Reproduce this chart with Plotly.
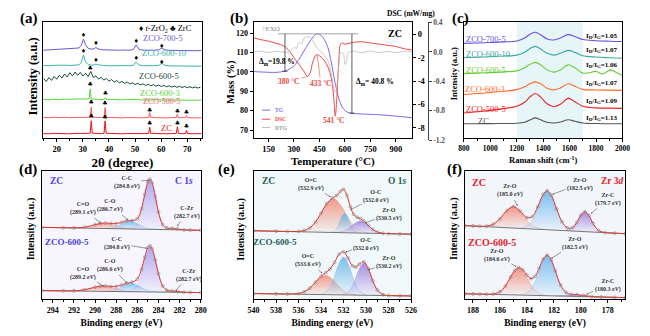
import plotly.graph_objects as go

W, H = 650, 336
SERIF = "Liberation Serif"

# ================= (a) XRD =================
xrd_zrc_grid = [14.8, 17, 19, 21, 23, 25, 27, 29, 31, 32.8, 33.2, 33.6, 35, 37, 38.1, 38.5, 38.9, 41, 43, 45, 47, 49, 51, 53,
                55.2, 55.6, 56.0, 58, 60, 62, 64, 65.8, 66.2, 66.6, 68, 69.35, 69.7, 70.05, 72, 75.5]
xrd_zc = [4.4, 4.1, 4.6, 4.2, 4.5, 4.1, 4.6, 4.3, 4.5, 4.8, 17.5, 4.8, 4.4, 4.3, 4.7, 17.3, 4.7, 4.3, 4.5, 4.1, 4.4, 4.2, 4.5, 4.3,
          4.6, 10.8, 4.6, 4.3, 4.4, 4.1, 4.4, 4.6, 11.5, 4.6, 4.3, 4.5, 7.6, 4.4, 4.2, 4.3]
xrd_zco_500_5 = [21.0, 20.6, 21.2, 20.7, 21.1, 20.6, 21.0, 20.7, 21.0, 21.3, 31.5, 21.3, 20.9, 20.7, 21.1, 31.0, 21.0, 20.6, 20.9, 20.5,
                 20.8, 20.5, 20.8, 20.6, 20.9, 25.8, 20.9, 20.6, 20.7, 20.4, 20.7, 20.9, 24.2, 20.8, 20.6, 20.8, 22.8, 20.7, 20.5, 20.6]
xrd_600_3_x = [14.8, 17, 19, 21, 23, 25, 27, 29, 31, 32.4, 32.8, 33.2, 35, 37, 38.2, 38.6, 39.0, 41, 43, 45, 47, 49, 51, 53, 55,
               57, 59, 61, 63, 65, 67, 69, 71, 73, 75.5]
xrd_zco_600_3 = [39.5, 39.0, 39.6, 39.2, 39.8, 39.4, 39.9, 39.5, 39.8, 40.2, 50.2, 40.0, 39.5, 39.3, 39.6, 41.2, 39.5, 39.2, 39.4, 39.0,
                 39.3, 38.9, 39.2, 38.9, 39.1, 38.8, 39.1, 38.8, 39.0, 38.7, 38.9, 38.6, 38.9, 38.6, 38.8]
xrd_600_5_x = [15, 16, 17, 18, 19, 20, 21, 22, 23, 24, 25, 26, 27, 28, 29, 30, 31, 32, 33, 34, 35, 36, 37, 38, 39, 40, 41, 42, 43, 44,
               45, 46, 47, 48, 49, 50, 51, 52, 53, 54, 55, 56, 57, 58, 59, 60, 61, 62, 63, 64, 65, 66, 67, 68, 69, 70, 71, 72, 73, 74, 75]
xrd_zco_600_5 = [60.8, 57.9, 61.9, 59.0, 63.1, 60.2, 64.3, 61.4, 65.6, 62.5, 66.9, 63.6, 67.6, 64.1, 67.2, 63.5, 66.4, 62.9, 68.2, 62.0,
                 63.6, 60.4, 62.2, 59.3, 61.0, 58.2, 59.9, 57.3, 58.8, 56.5, 58.0, 55.9, 57.3, 55.3, 56.6, 54.8, 56.0, 54.3, 55.5, 53.8,
                 55.0, 53.4, 54.6, 53.0, 54.2, 52.7, 53.8, 52.4, 53.5, 52.1, 53.2, 51.9, 52.9, 51.7, 52.7, 51.5, 52.5, 51.3, 52.3, 51.1, 52.0]
xrd_zro2_grid = [14.8, 17, 19, 21, 23, 25, 27, 28.5, 29.4, 29.9, 30.2, 30.5, 31.0, 32.0, 33.5, 34.6, 35.0, 35.4, 36.5, 38, 40, 42, 44,
                 46, 48, 49.4, 50.0, 50.4, 50.8, 51.5, 53, 55, 57, 59.0, 59.7, 60.2, 60.7, 61.5, 63, 65, 67, 69, 71, 73, 75.5]
xrd_zco_600_10 = [74.3, 74.0, 74.5, 74.2, 74.6, 74.4, 74.7, 74.9, 77.5, 82.5, 85.0, 83.0, 78.0, 75.2, 74.6, 75.3, 75.8, 75.2, 74.5,
                  74.3, 74.0, 74.3, 74.0, 74.2, 74.0, 74.6, 76.8, 78.0, 76.9, 74.8, 74.1, 73.9, 74.1, 74.4, 75.9, 76.5, 75.8, 74.5,
                  74.0, 73.8, 74.0, 73.7, 73.9, 73.6, 73.8]
xrd_zco_700_5 = [90.0, 90.4, 90.9, 91.2, 91.6, 91.8, 92.0, 92.3, 95.0, 99.5, 101.5, 99.8, 95.5, 92.0, 91.0, 92.0, 93.0, 92.0, 90.8,
                 90.4, 90.1, 90.3, 90.0, 90.2, 90.0, 90.8, 93.8, 95.5, 93.9, 90.9, 90.1, 89.8, 90.0, 90.3, 91.5, 92.3, 91.5, 90.4,
                 89.9, 89.7, 89.9, 89.6, 89.8, 89.5, 89.7]
zro2_mark_x = [30.2, 35.0, 50.4, 60.2, 30.2, 35.0, 50.4, 60.2]
zro2_mark_y = [105.5, 96.5, 99.0, 93.8, 89.0, 79.0, 81.8, 77.6]
zrc_mark_x = [32.8, 32.8, 38.6, 33.2, 38.5, 55.6, 66.2, 69.7, 33.2, 38.5, 55.6, 66.2, 69.7]
zrc_mark_y = [71.5, 54.5, 45.3, 35.8, 35.3, 28.2, 27.0, 25.6, 21.5, 21.3, 14.5, 15.0, 11.3]

# ================= (b) TG / DSC / DTG =================
tg_T = [62, 100, 150, 200, 240, 280, 310, 340, 370, 400, 425, 440, 460, 480, 500, 515, 530, 545, 560, 575, 595, 615, 640, 700, 800, 900, 995]
tg_mass = [100.2, 100.0, 99.8, 99.8, 100.3, 101.8, 104.0, 108.0, 112.5, 116.5, 119.2, 119.6, 118.8, 116.5, 112.5, 107.0, 100.0, 93.0,
           87.5, 83.5, 80.5, 79.2, 78.7, 78.3, 77.9, 77.2, 76.4]
dsc_T = [62, 100, 150, 200, 240, 270, 300, 330, 360, 380, 395, 410, 425, 435, 450, 470, 490, 510, 525, 535, 543, 550, 558, 565, 572,
         580, 600, 650, 700, 750, 800, 850, 900, 950, 995]
dsc_val = [-0.3, -0.45, -0.6, -0.8, -1.0, -1.4, -2.0, -2.6, -3.2, -3.6, -3.3, -2.4, -1.85, -1.75, -1.85, -2.1, -2.5, -3.2, -4.2, -5.6,
           -7.0, -6.0, -3.8, -2.0, -0.9, -0.75, -0.85, -0.7, -0.65, -0.75, -0.85, -0.95, -1.05, -1.25, -1.35]
dtg_T = [62, 100, 150, 200, 250, 280, 300, 315, 330, 345, 360, 375, 390, 400, 415, 430, 445, 460, 480, 500, 520, 535, 545, 555, 565,
         575, 590, 600, 610, 620, 650, 700, 750, 800, 850, 900, 950, 995]
dtg_val = [0.0, 0.012, -0.008, 0.01, -0.005, 0.01, 0.06, 0.05, 0.13, 0.11, 0.19, 0.2, 0.21, 0.19, 0.14, 0.07, 0.03, 0.0, -0.05, -0.12,
           -0.3, -0.5, -0.55, -0.4, -0.15, -0.01, -0.02, -0.17, -0.12, -0.01, 0.01, -0.01, 0.012, -0.01, 0.008, -0.01, 0.01, 0.0]

# ================= (c) Raman =================
raman_x = [800, 900, 1000, 1100, 1200, 1260, 1300, 1340, 1380, 1430, 1480, 1530, 1590, 1640, 1700, 1800, 1900, 2000]
raman_x_600_5 = [800, 900, 1000, 1100, 1200, 1260, 1300, 1340, 1380, 1430, 1480, 1530, 1590, 1640, 1700, 1750, 1800, 1850, 1910, 1960, 2000]
raman_zc = [14.5, 14.5, 14.6, 14.7, 14.9, 16.0, 18.3, 20.5, 18.5, 16.0, 15.3, 16.2, 18.5, 17.0, 15.2, 14.7, 14.5, 14.4]
raman_500_5 = [25.5, 26.8, 28.2, 30.0, 32.5, 36.5, 42.0, 45.5, 42.0, 35.0, 32.0, 34.5, 40.5, 37.0, 32.5, 30.8, 30.5, 30.3]
raman_600_3 = [44.5, 45.5, 46.5, 47.8, 49.5, 52.5, 55.5, 57.5, 55.5, 51.0, 49.3, 51.3, 55.5, 53.0, 49.8, 49.2, 49.0, 48.8]
raman_600_5 = [66.0, 66.5, 67.0, 67.8, 68.8, 72.0, 75.5, 77.5, 75.0, 69.8, 67.5, 69.8, 75.0, 72.0, 66.5, 66.8, 68.3, 65.5, 69.8, 66.5, 64.0]
raman_600_10 = [82.3, 82.8, 83.3, 84.0, 85.0, 88.0, 91.8, 94.0, 91.3, 86.8, 85.0, 86.8, 89.8, 87.8, 84.3, 83.0, 82.3, 81.8]
raman_700_5 = [97.0, 97.5, 98.0, 98.6, 99.5, 102.5, 106.5, 108.5, 106.0, 101.5, 100.5, 102.5, 106.0, 104.0, 101.0, 99.8, 99.3, 99.0]
id_ig_ratio = ["1.05", "1.07", "1.06", "1.07", "1.09", "1.13"]

# ================= (d) C 1s =================
c1s_bg_x = [295, 280]
c1s_zc_bg = [74.0, 71.0]
c1s_zco_bg = [9.0, 7.0]
c1s_env_x = [295, 293, 292, 291, 290, 289.5, 289, 288.5, 288, 287.5, 287, 286.5, 286, 285.6, 285.3, 285.0, 284.8, 284.6, 284.3,
             284.0, 283.6, 283.2, 282.7, 282.2, 281.6, 281, 280]
c1s_zc_env = [74.0, 73.6, 73.5, 74.2, 76.7, 78.0, 78.4, 78.0, 77.9, 79.1, 80.7, 80.9, 82.7, 93.2, 107.7, 120.6, 123.5, 119.9, 105.8,
              89.7, 76.8, 73.3, 73.0, 72.3, 71.4, 71.2, 71.0]
c1s_zco_env = [9.0, 8.74, 8.82, 9.92, 12.56, 13.59, 13.77, 13.35, 13.37, 14.7, 16.62, 17.66, 20.82, 30.96, 43.07, 53.11, 55.06, 52.09,
               40.42, 26.42, 13.8, 9.41, 8.64, 8.03, 7.33, 7.13, 7.0]
c1s_zc_CdO_x = [292.1, 291.2, 290.5, 289.8, 289.1, 288.4, 287.7, 287.0, 286.1]
c1s_zc_CdO = [73.49, 73.9, 75.25, 77.3, 78.32, 77.0, 74.69, 73.06, 72.29]
c1s_zc_CO_x = [289.1, 288.35, 287.8, 287.25, 286.7, 286.15, 285.6, 285.05, 284.3]
c1s_zc_CO = [72.92, 73.65, 75.76, 78.93, 80.54, 78.71, 75.32, 72.99, 71.96]
c1s_zc_CC_x = [286.45, 285.94, 285.56, 285.18, 284.8, 284.42, 284.04, 283.66, 283.15]
c1s_zc_CC = [72.9, 78.31, 92.0, 112.33, 122.96, 112.17, 91.7, 77.85, 72.24]
c1s_zc_CZr_x = [284.2, 283.75, 283.4, 283.05, 282.7, 282.35, 282.0, 281.65, 281.2]
c1s_zc_CZr = [71.86, 71.93, 72.27, 72.8, 73.04, 72.66, 71.99, 71.51, 71.26]
c1s_zco_CdO_x = [292.45, 291.45, 290.7, 289.95, 289.2, 288.45, 287.7, 286.95, 285.95]
c1s_zco_CdO = [8.72, 9.21, 10.6, 12.67, 13.72, 12.47, 10.2, 8.61, 7.86]
c1s_zco_CO_x = [289.1, 288.34, 287.76, 287.18, 286.6, 286.02, 285.44, 284.86, 284.1]
c1s_zco_CO = [8.32, 9.17, 11.46, 14.9, 16.67, 14.75, 11.15, 8.7, 7.65]
c1s_zco_CC_x = [286.58, 286.03, 285.62, 285.21, 284.8, 284.39, 283.98, 283.57, 283.02]
c1s_zco_CC = [8.47, 13.38, 25.87, 44.43, 54.13, 44.32, 25.65, 13.05, 8.0]
c1s_zco_CZr_x = [284.2, 283.75, 283.4, 283.05, 282.7, 282.35, 282.0, 281.65, 281.2]
c1s_zco_CZr = [7.57, 7.63, 7.92, 8.35, 8.55, 8.26, 7.73, 7.35, 7.17]

# ================= (e) O 1s =================
o1s_bg_x = [540, 526]
o1s_zc_bg = [70.5, 67.0]
o1s_zco_bg = [6.0, 3.5]
o1s_zc_env_x = [540, 538, 537, 536, 535.5, 535, 534.5, 534, 533.5, 533, 532.6, 532.3, 532.0, 531.7, 531.4, 531.1, 530.8, 530.5,
                530.2, 529.8, 529.4, 529, 528.5, 528, 527, 526]
o1s_zc_env = [70.5, 70.0, 69.76, 69.85, 70.74, 73.44, 79.34, 88.54, 98.32, 104.1, 106.79, 110.8, 113.05, 106.77, 95.23, 87.29, 84.35,
              82.87, 80.57, 76.11, 71.86, 69.2, 67.9, 67.53, 67.25, 67.0]
o1s_zco_env_x = [540, 538, 537, 536, 535.5, 535, 534.5, 534, 533.6, 533.2, 532.8, 532.4, 532.0, 531.6, 531.2, 530.9, 530.6, 530.2,
                 529.8, 529.4, 529, 528.5, 528, 527, 526]
o1s_zco_env = [6.0, 5.64, 5.49, 6.03, 7.72, 11.62, 17.63, 23.69, 27.3, 31.24, 38.08, 46.3, 48.79, 42.27, 34.29, 33.23, 36.19, 38.45,
               31.48, 19.1, 9.65, 4.89, 3.95, 3.68, 3.5]
o1s_zc_OdC_x = [535.9, 535.0, 534.3, 533.6, 532.9, 532.2, 531.5, 530.8, 529.9]
o1s_zc_OdC = [69.93, 73.45, 82.73, 96.55, 103.73, 96.2, 82.03, 72.4, 68.43]
o1s_zc_OC_x = [533.1, 532.73, 532.45, 532.18, 531.9, 531.62, 531.35, 531.07, 530.7]
o1s_zc_OC = [69.04, 71.08, 76.41, 84.35, 88.48, 84.21, 76.14, 70.67, 68.44]
o1s_zc_ZrO_x = [532.6, 532.0, 531.5, 531.0, 530.5, 530.0, 529.5, 529.0, 528.4]
o1s_zc_ZrO = [68.81, 70.0, 73.25, 78.13, 80.63, 77.88, 72.75, 69.25, 67.76]
o1s_zco_OdC_x = [536.35, 535.52, 534.88, 534.24, 533.6, 532.96, 532.32, 531.68, 530.85]
o1s_zco_OdC = [5.61, 7.6, 12.89, 20.77, 24.86, 20.54, 12.43, 6.92, 4.63]
o1s_zco_OC_x = [534.0, 533.4, 532.93, 532.46, 532.0, 531.54, 531.07, 530.6, 530.0]
o1s_zco_OC = [5.44, 9.5, 19.95, 35.46, 43.57, 35.3, 19.62, 8.99, 4.73]
o1s_zco_ZrO_x = [532.08, 531.51, 531.07, 530.64, 530.2, 529.76, 529.33, 528.89, 528.32]
o1s_zco_ZrO = [5.02, 8.44, 17.28, 30.4, 37.25, 30.24, 16.97, 7.98, 4.35]

# ================= (f) Zr 3d =================
zr_bg_x = [188.6, 176.7]
zr_zc_bg = [75.8, 67.47]
zr_zco_bg = [5.8, 1.8]
zr_zc_env_x = [188.6, 188, 187.5, 187, 186.5, 186, 185.5, 185.0, 184.5, 184.0, 183.6, 183.2, 182.8, 182.5, 182.2, 181.8, 181.4, 181.0,
               180.6, 180.3, 180.0, 179.7, 179.4, 179.1, 178.7, 178.2, 177.5, 176.7]
zr_zc_env = [75.8, 75.39, 75.11, 75.27, 77.21, 82.88, 91.16, 95.3, 90.75, 83.98, 85.05, 95.09, 107.82, 111.61, 107.14, 92.94, 79.8,
             73.41, 73.87, 79.07, 86.48, 90.07, 86.04, 78.13, 70.94, 68.64, 68.03, 67.47]
zr_zco_env_x = [188.6, 188, 187.5, 187, 186.5, 186, 185.6, 185.2, 184.9, 184.6, 184.3, 184.0, 183.7, 183.4, 183.1, 182.8, 182.5, 182.2,
                181.9, 181.5, 181.1, 180.7, 180.3, 179.8, 179.2, 178.5, 177.5, 176.7]
zr_zco_env = [5.8, 5.6, 5.43, 5.30, 5.52, 7.85, 13.62, 23.15, 29.81, 32.58, 30.17, 24.87, 21.36, 23.63, 31.83, 41.37, 45.42, 40.54,
              29.37, 14.66, 7.04, 5.1, 4.88, 4.04, 2.89, 2.42, 2.07, 1.8]
zr_zc_ZrO1_x = [187.19, 186.53, 186.02, 185.51, 185.0, 184.49, 183.98, 183.47, 182.81]
zr_zc_ZrO1 = [75.1, 76.99, 82.57, 91.02, 95.28, 90.3, 81.15, 74.85, 72.04]
zr_zc_ZrO2_x = [184.38, 183.81, 183.37, 182.94, 182.5, 182.06, 181.63, 181.19, 180.62]
zr_zc_ZrO2 = [73.37, 77.25, 87.74, 103.44, 111.53, 102.82, 86.52, 75.41, 70.73]
zr_zc_ZrC_x = [181.08, 180.66, 180.34, 180.02, 179.7, 179.38, 179.06, 178.74, 178.32]
zr_zc_ZrC = [70.81, 72.7, 78.02, 85.99, 90.07, 85.55, 77.12, 71.36, 68.87]
zr_zco_ZrO1_x = [186.54, 186.0, 185.5, 185.05, 184.6, 184.15, 183.7, 183.24, 182.66]
zr_zco_ZrO1 = [5.47, 8.29, 15.68, 26.73, 32.46, 26.43, 15.07, 7.36, 4.16]
zr_zco_ZrO2_x = [184.31, 183.77, 183.34, 182.92, 182.5, 182.08, 181.66, 181.23, 180.69]
zr_zco_ZrO2 = [4.9, 9.16, 20.22, 36.67, 45.25, 36.39, 19.66, 8.3, 3.68]
zr_zco_ZrC_x = [181.93, 181.44, 181.06, 180.68, 180.3, 179.92, 179.54, 179.16, 178.67]
zr_zco_ZrC = [3.58, 3.62, 3.97, 4.56, 4.81, 4.3, 3.45, 2.84, 2.48]

# ------------------------------------------------------------------
fig = go.Figure()


def add_line(x, y, color, xa, ya, width=1.0, shape="linear"):
    fig.add_trace(go.Scatter(x=x, y=y, mode="lines", line=dict(color=color, width=width, shape=shape),
                             xaxis=xa, yaxis=ya, showlegend=False, hoverinfo="skip"))


def add_comp(x, y, rgb, xa, ya):
    fig.add_trace(go.Scatter(x=x, y=y, mode="lines", fill="toself",
                             line=dict(color=f"rgba({rgb},0.55)", width=0.5, shape="spline"),
                             fillgradient=dict(type="vertical",
                                               colorscale=[[0, f"rgba({rgb},0.06)"], [1, f"rgba({rgb},0.8)"]]),
                             xaxis=xa, yaxis=ya, showlegend=False, hoverinfo="skip"))


def add_env(x, y, xa, ya):
    fig.add_trace(go.Scatter(x=x, y=y, mode="lines+markers",
                             line=dict(color="#e8322a", width=1.0, shape="spline"),
                             marker=dict(symbol="circle-open", size=3, color="#8c8c8c", line=dict(width=0.6)),
                             xaxis=xa, yaxis=ya, showlegend=False, hoverinfo="skip"))


# (a)
xrd_colors = {"zc": "#e8141c", "500": "#f25c5c", "6003": "#5ad23c", "6005": "#164c3d", "60010": "#3bb3aa", "7005": "#6a5ad0"}
add_line(xrd_zrc_grid, xrd_zc, xrd_colors["zc"], "x", "y")
add_line(xrd_zrc_grid, xrd_zco_500_5, xrd_colors["500"], "x", "y")
add_line(xrd_600_3_x, xrd_zco_600_3, xrd_colors["6003"], "x", "y")
add_line(xrd_600_5_x, xrd_zco_600_5, xrd_colors["6005"], "x", "y")
add_line(xrd_zro2_grid, xrd_zco_600_10, xrd_colors["60010"], "x", "y")
add_line(xrd_zro2_grid, xrd_zco_700_5, xrd_colors["7005"], "x", "y")
fig.add_trace(go.Scatter(x=zro2_mark_x, y=zro2_mark_y, mode="text", text=["♦"] * len(zro2_mark_x),
                         textfont=dict(family="DejaVu Sans", size=6, color="black"),
                         xaxis="x", yaxis="y", showlegend=False, hoverinfo="skip"))
fig.add_trace(go.Scatter(x=zrc_mark_x, y=zrc_mark_y, mode="text", text=["♣"] * len(zrc_mark_x),
                         textfont=dict(family="DejaVu Sans", size=6, color="black"),
                         xaxis="x", yaxis="y", showlegend=False, hoverinfo="skip"))

# (b)
add_line(dtg_T, dtg_val, "#bdbdbd", "x2", "y4", width=0.8, shape="spline")
add_line(tg_T, tg_mass, "#7b6cf0", "x2", "y2", width=1.0, shape="spline")
add_line(dsc_T, dsc_val, "#f04848", "x2", "y3", width=1.0, shape="spline")

# (c)
raman_colors = ["#555555", "#ee2222", "#ff6a2a", "#66cc33", "#3aa8a0", "#6a50e0"]
add_line(raman_x, raman_zc, raman_colors[0], "x3", "y5", 1.1, "spline")
add_line(raman_x, raman_500_5, raman_colors[1], "x3", "y5", 1.1, "spline")
add_line(raman_x, raman_600_3, raman_colors[2], "x3", "y5", 1.1, "spline")
add_line(raman_x_600_5, raman_600_5, raman_colors[3], "x3", "y5", 1.1, "spline")
add_line(raman_x, raman_600_10, raman_colors[4], "x3", "y5", 1.1, "spline")
add_line(raman_x, raman_700_5, raman_colors[5], "x3", "y5", 1.1, "spline")

SALMON, BLUE, LAV, GREEN, PURP = "240,130,110", "95,175,235", "160,150,235", "110,210,80", "150,115,220"
# (d)
for xs, ys, c in [(c1s_zc_CdO_x, c1s_zc_CdO, SALMON), (c1s_zc_CO_x, c1s_zc_CO, BLUE), (c1s_zc_CC_x, c1s_zc_CC, LAV),
                  (c1s_zc_CZr_x, c1s_zc_CZr, GREEN), (c1s_zco_CdO_x, c1s_zco_CdO, SALMON), (c1s_zco_CO_x, c1s_zco_CO, BLUE),
                  (c1s_zco_CC_x, c1s_zco_CC, LAV), (c1s_zco_CZr_x, c1s_zco_CZr, GREEN)]:
    add_comp(xs, ys, c, "x4", "y6")
add_line(c1s_bg_x, c1s_zc_bg, "#555", "x4", "y6", 0.8)
add_line(c1s_bg_x, c1s_zco_bg, "#555", "x4", "y6", 0.8)
add_env(c1s_env_x, c1s_zc_env, "x4", "y6")
add_env(c1s_env_x, c1s_zco_env, "x4", "y6")
# (e)
for xs, ys, c in [(o1s_zc_OdC_x, o1s_zc_OdC, SALMON), (o1s_zc_OC_x, o1s_zc_OC, BLUE), (o1s_zc_ZrO_x, o1s_zc_ZrO, PURP),
                  (o1s_zco_OdC_x, o1s_zco_OdC, SALMON), (o1s_zco_OC_x, o1s_zco_OC, BLUE), (o1s_zco_ZrO_x, o1s_zco_ZrO, PURP)]:
    add_comp(xs, ys, c, "x5", "y7")
add_line(o1s_bg_x, o1s_zc_bg, "#555", "x5", "y7", 0.8)
add_line(o1s_bg_x, o1s_zco_bg, "#555", "x5", "y7", 0.8)
add_env(o1s_zc_env_x, o1s_zc_env, "x5", "y7")
add_env(o1s_zco_env_x, o1s_zco_env, "x5", "y7")
# (f)
for xs, ys, c in [(zr_zc_ZrO1_x, zr_zc_ZrO1, SALMON), (zr_zc_ZrO2_x, zr_zc_ZrO2, BLUE), (zr_zc_ZrC_x, zr_zc_ZrC, PURP),
                  (zr_zco_ZrO1_x, zr_zco_ZrO1, SALMON), (zr_zco_ZrO2_x, zr_zco_ZrO2, BLUE), (zr_zco_ZrC_x, zr_zco_ZrC, PURP)]:
    add_comp(xs, ys, c, "x6", "y8")
add_line(zr_bg_x, zr_zc_bg, "#555", "x6", "y8", 0.8)
add_line(zr_bg_x, zr_zco_bg, "#555", "x6", "y8", 0.8)
add_env(zr_zc_env_x, zr_zc_env, "x6", "y8")
add_env(zr_zco_env_x, zr_zco_env, "x6", "y8")

# ------------------------------------------------------------------
def dom_x(a, b):
    return [a / W, b / W]


def dom_y(top, bot):
    return [1 - bot / H, 1 - top / H]


TOP = dom_y(18, 137.5)
BOT = dom_y(172, 303.5)


def tf(size=8.5, color="black"):
    return dict(family=SERIF, size=size, color=color, weight="bold")


def ax(**kw):
    d = dict(showline=True, linecolor="black", linewidth=1, mirror=True, ticks="outside", ticklen=3, tickwidth=0.8,
             tickcolor="black", showgrid=False, zeroline=False, tickfont=tf())
    d.update(kw)
    return d


def title(text, size, standoff):
    return dict(text=text, font=tf(size), standoff=standoff)


def minor(dt):
    return dict(ticks="outside", ticklen=2, tickwidth=0.6, tickcolor="black", dtick=dt)


layout = dict(
    width=W, height=H, margin=dict(l=0, r=0, t=0, b=0), paper_bgcolor="white", plot_bgcolor="rgba(0,0,0,0)",
    showlegend=False,
    # (a)
    xaxis=ax(domain=dom_x(38, 200), anchor="y", range=[14.8, 75.5], tickvals=[20, 30, 40, 50, 60, 70], minor=minor(5),
             title=title("2θ (degree)", 13, 4)),
    yaxis=ax(domain=TOP, anchor="x", range=[0, 119.5], ticks="", showticklabels=False),
    # (b)
    xaxis2=ax(domain=dom_x(253, 415), anchor="y2", range=[62, 995], tickvals=[150, 300, 450, 600, 750, 900],
              title=title("Temperature (°C)", 11, 4)),
    yaxis2=ax(domain=TOP, anchor="x2", range=[66, 126], mirror=False, tickvals=[70, 80, 90, 100, 110, 120],
              tickfont=tf(8)),
    yaxis3=ax(overlaying="y2", anchor="x2", side="right", range=[-8.85, 1.08], mirror=False, tickvals=[0, -2, -4, -6, -8],
              ticktext=["0", "-2", "-4", "-6", "-8"]),
    yaxis4=ax(domain=dom_y(19, 140), anchor="free", position=431 / W, side="right", range=[-1.2005, 0.4005], mirror=False,
              tickvals=[0.4, 0.0, -0.4, -0.8, -1.2], ticktext=["0.4", "0.0", "-0.4", "-0.8", "-1.2"],
              linecolor="#444", tickcolor="#444", tickfont=tf(7.5, "#555")),
    # (c)
    xaxis3=ax(domain=dom_x(468, 630), anchor="y5", range=[800, 2000], tickvals=[800, 1000, 1200, 1400, 1600, 1800, 2000],
              minor=minor(100), tickfont=tf(7.5), title=title("Raman shift (cm<sup>-1</sup>)", 8.5, 5)),
    yaxis5=ax(domain=TOP, anchor="x3", range=[0, 119.5], ticks="", showticklabels=False),
    # (d)
    xaxis4=ax(domain=dom_x(37, 199), anchor="y6", range=[295, 280], tickvals=[294, 292, 290, 288, 286, 284, 282, 280],
              minor=minor(1), tickfont=tf(8), title=title("Binding energy (eV)", 9.5, 5)),
    yaxis6=ax(domain=BOT, anchor="x4", range=[0, 131.5], ticks="", showticklabels=False),
    # (e)
    xaxis5=ax(domain=dom_x(253, 414), anchor="y7", range=[540, 526], tickvals=[540, 538, 536, 534, 532, 530, 528, 526],
              minor=minor(1), tickfont=tf(8), title=title("Binding energy (eV)", 9.5, 5)),
    yaxis7=ax(domain=BOT, anchor="x5", range=[0, 131.5], ticks="", showticklabels=False),
    # (f)
    xaxis6=ax(domain=dom_x(469, 633), anchor="y8", range=[188.6, 176.7], tickvals=[188, 186, 184, 182, 180, 178],
              minor=minor(1), tickfont=tf(8), title=title("Binding energy (eV)", 9.5, 5)),
    yaxis8=ax(domain=BOT, anchor="x6", range=[0, 131.5], ticks="", showticklabels=False),
)
fig.update_layout(**layout)

shapes = []
# Raman highlighted band
shapes.append(dict(type="rect", xref="x3", yref="y5 domain", x0=1200, x1=1700, y0=0, y1=1,
                   fillcolor="#e6f5f8", line=dict(width=0), layer="below"))
# XPS panel tints
for xr, yr, col in [("x4 domain", "y6 domain", "#f7f5fd"), ("x5 domain", "y7 domain", "#f1f8f9"), ("x6 domain", "y8 domain", "#f2f6fb")]:
    shapes.append(dict(type="rect", xref=xr, yref=yr, x0=0, x1=1, y0=0, y1=1, fillcolor=col, line=dict(width=0), layer="below"))
# TG step markers
shapes += [
    dict(type="line", xref="x2", yref="y2", x0=206, x1=679, y0=119.65, y1=119.65, line=dict(color="#9a9a9a", width=0.9)),
    dict(type="line", xref="x2", yref="y2", x0=247, x1=247, y0=119.65, y1=100.3, line=dict(color="#333", width=0.8)),
    dict(type="line", xref="x2", yref="y2", x0=232, x1=262, y0=100.3, y1=100.3, line=dict(color="#333", width=0.8)),
    dict(type="line", xref="x2", yref="y2", x0=641, x1=641, y0=119.65, y1=78.7, line=dict(color="#333", width=0.8)),
    dict(type="line", xref="x2", yref="y2", x0=626, x1=656, y0=78.7, y1=78.7, line=dict(color="#333", width=0.8)),
    dict(type="line", xref="x2", yref="y2", x0=112, x1=160, y0=80.3, y1=80.3, line=dict(color="#7b6cf0", width=1)),
    dict(type="line", xref="x2", yref="y2", x0=112, x1=160, y0=75.6, y1=75.6, line=dict(color="#f04848", width=1)),
    dict(type="line", xref="x2", yref="y2", x0=112, x1=160, y0=71.3, y1=71.3, line=dict(color="#bdbdbd", width=1)),
]
fig.update_layout(shapes=shapes)

ann = []


def pa(text, px, py, size, color="black", bold=True, xanchor="center", angle=0):
    t = f"<b>{text}</b>" if bold else text
    ann.append(dict(text=t, x=px / W, y=1 - py / H, xref="paper", yref="paper", showarrow=False, textangle=angle,
                    xanchor=xanchor, yanchor="middle", font=dict(family=SERIF, size=size, color=color)))


def da(text, x, y, xa, ya, size, color="black", bold=True, xanchor="center"):
    t = f"<b>{text}</b>" if bold else text
    ann.append(dict(text=t, x=x, y=y, xref=xa, yref=ya, showarrow=False, xanchor=xanchor, yanchor="middle",
                    font=dict(family=SERIF, size=size, color=color)))


def arrow_label(text, lx, ly, tx, ty, xa, ya, size=6, color="#333", acolor="#555", head=2):
    ann.append(dict(text=text, x=tx, y=ty, ax=lx, ay=ly, xref=xa, yref=ya, axref=xa, ayref=ya, showarrow=True,
                    arrowhead=head, arrowsize=0.5, arrowwidth=0.6, arrowcolor=acolor, standoff=0, startstandoff=0,
                    font=dict(family=SERIF, size=size, color=color), align="center"))


# panel letters
for lab, px, py in [("(a)", 23, 15), ("(b)", 238, 15), ("(c)", 464, 15), ("(d)", 22, 170), ("(e)", 225, 170), ("(f)", 458, 170)]:
    pa(lab, px, py, 15)

# y-axis titles
pa("Intensity (a.u.)", 28, 74, 12.5, angle=-90)
pa("Mass (%)", 230, 80, 10.5, angle=-90)
pa("Intensity (a.u.)", 458, 72, 8.5, angle=-90)
pa("Intensity (a.u.)", 25, 231, 10, angle=-90)
pa("Intensity (a.u.)", 240, 231, 10, angle=-90)
pa("Intensity (a.u.)", 458, 231, 10, angle=-90)

# (a) labels
da("ZCO-700-5", 60.55, 102.8, "x", "y", 8.5, xrd_colors["7005"], bold=False)
da("ZCO-600-10", 61.2, 87.6, "x", "y", 8.5, xrd_colors["60010"], bold=False)
da("ZCO-600-5", 59.3, 63.2, "x", "y", 8.5, "#1c4a3c", bold=False)
da("ZCO-600-3", 59.7, 45.8, "x", "y", 8.5, xrd_colors["6003"], bold=False)
da("ZCO-500-5", 60.2, 36.8, "x", "y", 8, xrd_colors["500"], bold=False)
da("ZC", 62.0, 9.8, "x", "y", 8.5, xrd_colors["zc"], bold=False)
da("♦ <i>t</i>-ZrO<sub>2</sub> ♣ ZrC", 61.8, 112.5, "x", "y", 8.5, "black", bold=False)

# (b) labels
da("ZC", 893, 120, "x2", "y2", 10)
da("↑EXO", 100, 122.3, "x2", "y2", 7, "#8a8a8a", bold=False, xanchor="left")
da("Δ<sub>m</sub>=19.8 %", 85, 104.9, "x2", "y2", 7.5, xanchor="left")
da("Δ<sub>m</sub>= 40.8 %", 651, 94.9, "x2", "y2", 7.5, xanchor="left")
arrow_label("<b>380 °C</b>", 270, 94.9, 381, 97.7, "x2", "y2", size=7.5, color="#f04848", acolor="#f04848", head=0)
arrow_label("<b>433 °C</b>", 458, 94.0, 437, 108.5, "x2", "y2", size=7.5, color="#f04848", acolor="#f04848", head=0)
da("541 °C", 535, 74.8, "x2", "y2", 7.5, "#f04848")
da("TG", 175, 80.3, "x2", "y2", 5.5, "#7b6cf0", xanchor="left")
da("DSC", 175, 75.6, "x2", "y2", 5.5, "#f04848", xanchor="left")
da("DTG", 175, 71.3, "x2", "y2", 5.5, "#9a9a9a", xanchor="left")
pa("DSC (mW/mg)", 414, 10, 7.5)

# (c) labels
raman_names = ["ZC", "ZCO-500-5", "ZCO-600-3", "ZCO-600-5", "ZCO-600-10", "ZCO-700-5"]
raman_label_pos = [(948, 17.5), (970, 29.5), (963, 50.2), (970, 69.2), (985, 85.8), (970, 101.5)]
for name, (lx, ly), col in zip(raman_names, raman_label_pos, raman_colors):
    da(name, lx, ly, "x3", "y5", 8.5, col, bold=False)
ratio_y = [104.5, 89.8, 75.2, 56.5, 38.2, 20.2]
for r, yy in zip(id_ig_ratio, ratio_y):
    da(f"I<sub>D</sub>/I<sub>G</sub>={r}", 1985, yy, "x3", "y5", 7, xanchor="right")

# (d) labels
CD = "#4b3fd9"
da("ZC", 293.64, 121.8, "x4", "y6", 9.5, CD)
da("C 1<i>s</i>", 281.6, 121.8, "x4", "y6", 9.5, CD)
da("ZCO-600-5", 292.64, 58.5, "x4", "y6", 9, CD)
arrow_label("<b>C-C<br>(284.8 <i>eV</i>)</b>", 287.0, 120.2, 284.9, 122.5, "x4", "y6")
arrow_label("<b>C-O<br>(286.7 <i>eV</i>)</b>", 288.55, 96, 286.85, 81.5, "x4", "y6")
arrow_label("<b>C=O<br>(289.1 <i>eV</i>)</b>", 291.18, 93, 289.47, 78.5, "x4", "y6")
arrow_label("<b>C-Zr<br>(282.7 <i>eV</i>)</b>", 281.3, 89.5, 282.22, 75.2, "x4", "y6")
arrow_label("<b>C-C<br>(284.8 <i>eV</i>)</b>", 287.94, 57.5, 285.1, 52.5, "x4", "y6")
arrow_label("<b>C-O<br>(286.6 <i>eV</i>)</b>", 288.55, 34.5, 287.0, 16.8, "x4", "y6")
arrow_label("<b>C=O<br>(289.2 <i>eV</i>)</b>", 291.18, 26.5, 289.17, 13.5, "x4", "y6")
arrow_label("<b>C-Zr<br>(282.7 <i>eV</i>)</b>", 281.14, 24.5, 282.38, 8.7, "x4", "y6")

# (e) labels
CE = "#1f5a5a"
da("ZC", 538.67, 121.8, "x5", "y7", 9.5, CE)
da("O 1<i>s</i>", 527.2, 121.8, "x5", "y7", 9.5, CE)
da("ZCO-600-5", 538.09, 58.5, "x5", "y7", 9, CE)
arrow_label("<b>O=C<br>(532.9 <i>eV</i>)</b>", 534.9, 118.2, 533.16, 105.2, "x5", "y7")
arrow_label("<b>O-C<br>(532.0 <i>eV</i>)</b>", 529.1, 105.5, 531.4, 92, "x5", "y7")
arrow_label("<b>Zr-O<br>(530.5 <i>eV</i>)</b>", 527.94, 87.5, 530.11, 78.5, "x5", "y7")
arrow_label("<b>O-C<br>(532.0 <i>eV</i>)</b>", 529.97, 56, 531.85, 48.5, "x5", "y7")
arrow_label("<b>O=C<br>(533.6 <i>eV</i>)</b>", 535.19, 39.5, 533.89, 26.8, "x5", "y7")
arrow_label("<b>Zr-O<br>(530.2 <i>eV</i>)</b>", 527.94, 37.5, 529.83, 30.2, "x5", "y7")

# (f) labels
CF = "#e8202a"
da("ZC", 187.56, 120.2, "x6", "y8", 10, CF)
da("Zr 3<i>d</i>", 177.66, 121.8, "x6", "y8", 9.5, CF)
da("ZCO-600-5", 186.59, 58.5, "x6", "y8", 10, CF)
arrow_label("<b>Zr-O<br>(185.0 <i>eV</i>)</b>", 185.27, 111.5, 184.7, 96, "x6", "y8")
arrow_label("<b>Zr-O<br>(182.5 <i>eV</i>)</b>", 180.07, 118.5, 182.1, 108, "x6", "y8")
arrow_label("<b>Zr-C<br>(179.7 <i>eV</i>)</b>", 178.02, 103, 179.25, 88, "x6", "y8")
arrow_label("<b>Zr-O<br>(182.5 <i>eV</i>)</b>", 180.43, 57.5, 182.2, 42, "x6", "y8")
arrow_label("<b>Zr-O<br>(184.6 <i>eV</i>)</b>", 186.23, 45.2, 184.78, 33.5, "x6", "y8")
arrow_label("<b>Zr-C<br>(180.3 <i>eV</i>)</b>", 178.02, 14.7, 179.59, 5.2, "x6", "y8")

fig.update_layout(annotations=ann)
fig.write_html("out.html")
